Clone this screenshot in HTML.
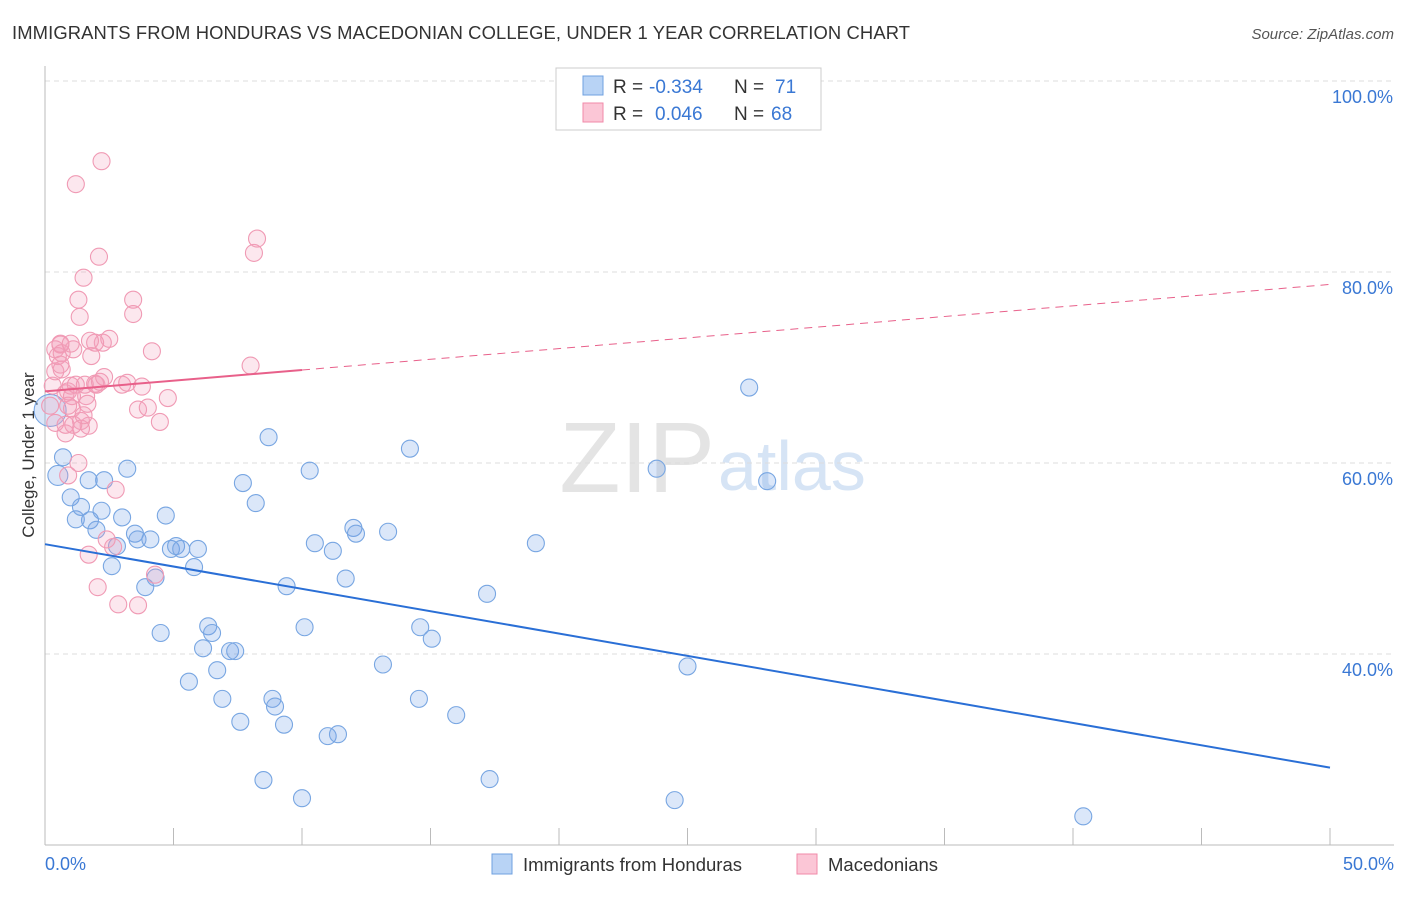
<!DOCTYPE html>
<html><head><meta charset="utf-8"><style>
body{margin:0;background:#fff;font-family:"Liberation Sans",sans-serif}
svg text{font-family:"Liberation Sans",sans-serif}
</style></head><body>
<svg id="c" width="1406" height="892">
<text x="12" y="39" font-size="18.4" fill="#333" textLength="898">IMMIGRANTS FROM HONDURAS VS MACEDONIAN COLLEGE, UNDER 1 YEAR CORRELATION CHART</text>
<text x="1394" y="39" font-size="15" fill="#555" font-style="italic" text-anchor="end">Source: ZipAtlas.com</text>
<text x="715" y="492" font-size="100" fill="#e4e4e4" text-anchor="end" font-family="Liberation Serif">ZIP</text>
<text x="718" y="490" font-size="70" fill="#d6e4f5">atlas</text>
<text transform="translate(34,455) rotate(-90)" font-size="17" fill="#333" text-anchor="middle">College, Under 1 year</text>
<g id="grid"></g><g id="pts"></g><g id="lines"></g>
<g>
<rect x="556" y="68" width="265" height="62" fill="#fff" stroke="#ccc"/>
<rect x="583" y="76" width="20" height="19" fill="#b8d3f5" stroke="#6fa0e0"/>
<rect x="583" y="103" width="20" height="19" fill="#fbc6d6" stroke="#f08aa8"/>
<text x="613" y="93" font-size="19" fill="#333">R =</text>
<text x="649" y="93" font-size="19" fill="#3a78d4">-0.334</text>
<text x="734" y="93" font-size="19" fill="#333">N =</text>
<text x="775" y="93" font-size="19" fill="#3a78d4">71</text>
<text x="613" y="120" font-size="19" fill="#333">R =</text>
<text x="655" y="120" font-size="19" fill="#3a78d4">0.046</text>
<text x="734" y="120" font-size="19" fill="#333">N =</text>
<text x="771" y="120" font-size="19" fill="#3a78d4">68</text>
</g>
<g>
<rect x="492" y="854" width="20" height="20" fill="#b8d3f5" stroke="#6fa0e0"/>
<text x="523" y="871" font-size="18.5" fill="#333">Immigrants from Honduras</text>
<rect x="797" y="854" width="20" height="20" fill="#fbc6d6" stroke="#f08aa8"/>
<text x="828" y="871" font-size="18.5" fill="#333">Macedonians</text>
</g>
</svg>
<script>
const yTicks=[40,60,80,100];
const xTickLabels=["0.0%","50.0%"];
const blueX=[0.2,0.5,0.7,1.0,1.2,1.4,1.7,1.75,2.0,2.2,2.3,2.6,2.8,3.0,3.2,3.5,3.6,3.9,4.1,4.3,4.5,4.7,4.9,5.1,5.3,5.6,5.8,5.95,6.15,6.35,6.5,6.7,6.9,7.2,7.4,7.6,7.7,8.2,8.5,8.7,8.85,8.95,9.3,9.4,10.0,10.1,10.3,10.5,11.0,11.2,11.4,11.7,12.0,12.1,13.15,13.35,14.2,14.55,14.6,15.05,16.0,17.2,17.3,19.1,23.8,24.5,25.0,27.4,28.1,40.4];
const blueY=[65.5,58.7,60.6,56.4,54.1,55.4,58.2,54.0,53.0,55.0,58.2,49.2,51.3,54.3,59.4,52.6,52.0,47.0,52.0,48.0,42.2,54.5,51.0,51.3,51.0,37.1,49.1,51.0,40.6,42.9,42.2,38.3,35.3,40.3,40.3,32.9,57.9,55.8,26.8,62.7,35.3,34.5,32.6,47.1,24.9,42.8,59.2,51.6,31.4,50.8,31.6,47.9,53.2,52.6,38.9,52.8,61.5,35.3,42.8,41.6,33.6,46.3,26.9,51.6,59.4,24.7,38.7,67.9,58.1,23.0];
const pinkX=[0.2,0.3,0.4,0.4,0.5,0.6,0.65,0.8,0.8,0.9,1.0,1.05,1.1,1.2,1.2,1.3,1.35,1.4,1.5,1.55,1.6,1.65,1.7,1.8,1.95,2.0,2.1,2.2,2.25,2.5,2.65,2.75,2.85,3.0,3.2,3.43,3.43,3.62,3.62,3.77,4.0,4.16,4.28,4.47,4.78,8.0,8.13,8.25,2.05,1.7,0.9,0.8,1.3,0.6,0.65,1.0,1.95,1.4,1.75,0.4,1.05,2.14,0.6,2.3,1.1,0.9,1.5,2.4];
const pinkY=[66.0,68.1,69.6,71.9,71.2,72.4,69.8,67.3,63.1,67.5,68.1,65.7,71.9,68.2,89.2,77.1,75.3,64.4,79.4,68.2,67.0,66.2,63.9,71.2,68.3,68.2,81.6,91.6,72.6,73.0,51.2,57.2,45.2,68.2,68.4,77.1,75.6,65.6,45.1,68.0,65.8,71.7,48.3,64.3,66.8,70.2,82.0,83.5,47.0,50.4,58.7,64.0,60.0,72.5,71.5,72.5,72.6,63.6,72.8,64.2,67.0,68.5,70.3,69.0,64.0,66.0,65.0,52.0];
const blueTrend=[51.5,28.1], pinkTrend=[67.5,78.7], pinkSolidEnd=10;
const ns="http://www.w3.org/2000/svg";
const X=v=>45+v/50*1285, Y=v=>81+(100-v)*9.55;
function mk(t,a,p){const e=document.createElementNS(ns,t);for(const k in a)e.setAttribute(k,a[k]);p.appendChild(e);return e;}
const grid=document.getElementById('grid');
yTicks.forEach(t=>{
 const l=mk('line',{x1:45,x2:1394,y1:Y(t),y2:Y(t),stroke:'#ddd','stroke-dasharray':'5,4'},grid);
 
 
 const tx=mk('text',{x:1393,y:Y(t)+22,'font-size':18,fill:'#3a78d4','text-anchor':'end'},grid);tx.textContent=t.toFixed(1)+'%';
 
 
});
mk('line',{x1:45,x2:45,y1:66,y2:845,stroke:'#bbb'},grid);
mk('line',{x1:45,x2:1394,y1:845,y2:845,stroke:'#bbb'},grid);
for(let i=0;i<=10;i++){mk('line',{x1:X(i*5),x2:X(i*5),y1:828,y2:845,stroke:'#bbb'},grid);}
const xl0=mk('text',{x:45,y:870,'font-size':18,fill:'#3a78d4'},grid);xl0.textContent=xTickLabels[0];


const xl1=mk('text',{x:1394,y:870,'font-size':18,fill:'#3a78d4','text-anchor':'end'},grid);xl1.textContent=xTickLabels[1];


const pts=document.getElementById('pts');
blueX.forEach((x,i)=>{const c=mk('circle',{cx:X(x),cy:Y(blueY[i]),r:i==0?16:(i==1?10:8.5),fill:'rgba(110,160,230,0.25)',stroke:'#78a6e2','stroke-width':1.1},pts);
 
 });
pinkX.forEach((x,i)=>{const c=mk('circle',{cx:X(x),cy:Y(pinkY[i]),r:8.5,fill:'rgba(245,160,188,0.25)',stroke:'#f09ab4','stroke-width':1.1},pts);
 
 });
const lines=document.getElementById('lines');
const bl=mk('line',{x1:X(0),y1:Y(blueTrend[0]),x2:X(50),y2:Y(blueTrend[1]),stroke:'#2a6fd6','stroke-width':2},lines);


const py=v=>pinkTrend[0]+(pinkTrend[1]-pinkTrend[0])*v/50;
const ps=mk('line',{x1:X(0),y1:Y(py(0)),x2:X(pinkSolidEnd),y2:Y(py(pinkSolidEnd)),stroke:'#e8608a','stroke-width':2},lines);


const pd=mk('line',{x1:X(pinkSolidEnd),y1:Y(py(pinkSolidEnd)),x2:X(50),y2:Y(py(50)),stroke:'#e8608a','stroke-width':1,'stroke-dasharray':'8,6'},lines);


</script>
</body></html>
